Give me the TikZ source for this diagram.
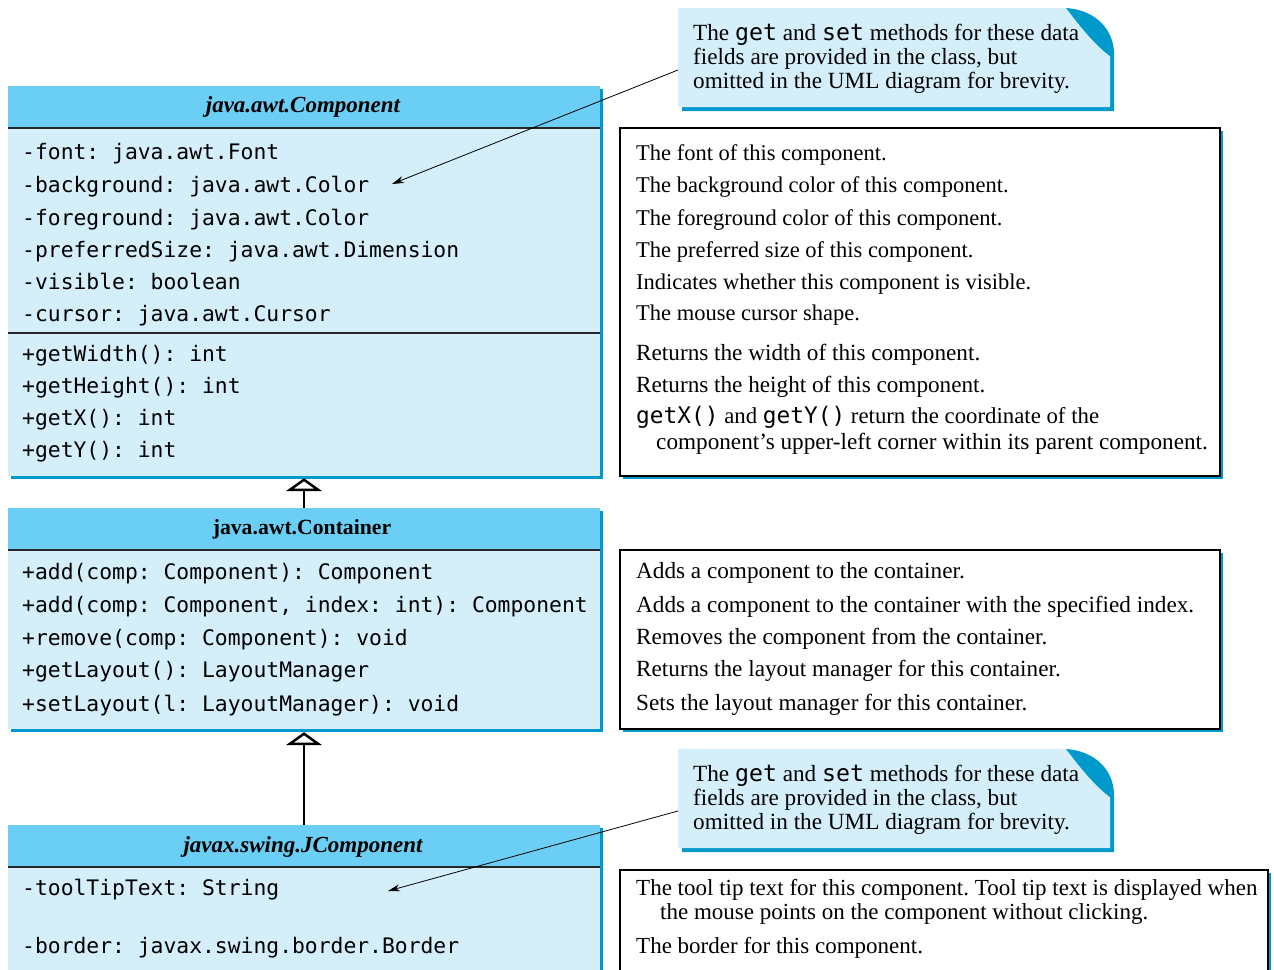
\documentclass[tikz,border=0pt]{standalone}
\usepackage{fontspec}
\setmainfont{Liberation Serif}
\setmonofont{DejaVu Sans Mono}
\usetikzlibrary{arrows.meta,shadows}
\definecolor{headblue}{RGB}{106,206,245}
\definecolor{bodyblue}{RGB}{212,238,250}
\definecolor{shadblue}{RGB}{0,153,204}
\tikzset{
  bluesh/.style={drop shadow={shadow xshift=3pt,shadow yshift=-3pt,fill=shadblue,opacity=1}},
  cbody/.style={rectangle, fill=bodyblue, inner sep=0pt, minimum width=592pt, bluesh},
  chead/.style={rectangle, fill=headblue, inner sep=0pt, minimum width=592pt, minimum height=42pt},
  mono/.style={anchor=base west, inner sep=0pt, font=\fontsize{21.35}{25}\selectfont\ttfamily},
  desc/.style={anchor=base west, inner sep=0pt, font=\fontsize{23.2}{27}\selectfont\frenchspacing},
  descn/.style={desc, font=\fontsize{22.5}{27}\selectfont\frenchspacing},
  notetext/.style={anchor=base west, inner sep=0pt, font=\fontsize{23.2}{27}\selectfont},
  headtext/.style={anchor=base, inner sep=0pt, font=\fontsize{23}{27}\selectfont\bfseries},
  sepline/.style={line width=1.5pt, draw=black!85},
  descbox/.style={rectangle, draw=black, line width=1.2pt, fill=white, inner sep=0pt, bluesh},
  ptr/.style={line width=0.8pt, -{Stealth[length=12pt,width=7pt]}},
  inherit/.style={line width=2.5pt, -{Triangle[open,length=13pt,width=36pt,line width=2.5pt]}}
}
\newcommand{\mt}[1]{{\ttfamily #1}}
\begin{document}
\begin{tikzpicture}[x=1pt,y=-1pt]
\useasboundingbox (0,0) rectangle (1274,969);
\clip (0,0) rectangle (1274,969);

% ---------- java.awt.Component ----------
\node[cbody, minimum height=390pt] (comp) at (304,281) {};
\node[chead] (comphead) at (304,107) {};
\draw[sepline] (comphead.south west) -- (comphead.south east);
\draw[sepline] (8,333) -- (600,333);
\node[headtext] (compname) at (303,112) {\itshape java.awt.Component};
\node[mono] (ca1) at (22,159) {-font: java.awt.Font};
\node[mono] (ca2) at (22,192) {-background: java.awt.Color};
\node[mono] (ca3) at (22,225) {-foreground: java.awt.Color};
\node[mono] (ca4) at (22,257) {-preferredSize: java.awt.Dimension};
\node[mono] (ca5) at (22,289) {-visible: boolean};
\node[mono] (ca6) at (22,321) {-cursor: java.awt.Cursor};
\node[mono] (cm1) at (22,361) {+getWidth(): int};
\node[mono] (cm2) at (22,393) {+getHeight(): int};
\node[mono] (cm3) at (22,425) {+getX(): int};
\node[mono] (cm4) at (22,457) {+getY(): int};

% ---------- java.awt.Container ----------
\node[cbody, minimum height=221pt] (cont) at (304,618.5) {};
\node[chead] (conthead) at (304,529) {};
\draw[sepline] (conthead.south west) -- (conthead.south east);
\node[headtext, font=\fontsize{21.7}{26}\selectfont\bfseries] (contname) at (302,534) {java.awt.Container};
\node[mono] (tm1) at (22,579) {+add(comp: Component): Component};
\node[mono] (tm2) at (22,612) {+add(comp: Component, index: int): Component};
\node[mono] (tm3) at (22,645) {+remove(comp: Component): void};
\node[mono] (tm4) at (22,677) {+getLayout(): LayoutManager};
\node[mono] (tm5) at (22,711) {+setLayout(l: LayoutManager): void};

% ---------- javax.swing.JComponent ----------
\node[cbody, minimum height=190pt] (jcomp) at (304,920) {};
\node[chead] (jcomphead) at (304,846) {};
\draw[sepline] (jcomphead.south west) -- (jcomphead.south east);
\node[headtext] (jcompname) at (303,852) {\itshape javax.swing.JComponent};
\node[mono] (ja1) at (22,895) {-toolTipText: String};
\node[mono] (ja2) at (22,953) {-border: javax.swing.border.Border};

% ---------- inheritance ----------
\draw[inherit] (cont.north) -- ([yshift=-2pt]comp.south);
\draw[inherit] (jcomp.north) -- ([yshift=-3pt]cont.south);

% ---------- description boxes ----------
\node[descbox, minimum width=600pt, minimum height=348pt] (d1) at (920,302) {};
\node[descn] (d1a) at (636,160) {The font of this component.};
\node[descn] (d1b) at (636,192) {The background color of this component.};
\node[descn] (d1c) at (636,225) {The foreground color of this component.};
\node[descn] (d1d) at (636,257) {The preferred size of this component.};
\node[descn] (d1e) at (636,289) {Indicates whether this component is visible.};
\node[descn] (d1f) at (636,320) {The mouse cursor shape.};
\node[desc] (d1g) at (636,360) {Returns the width of this component.};
\node[desc] (d1h) at (636,392) {Returns the height of this component.};
\node[desc, font=\fontsize{22.8}{27}\selectfont] (d1i) at (636,423) {\mt{getX()} and \mt{getY()} return the coordinate of the};
\node[desc] (d1j) at (656,449) {component's upper-left corner within its parent component.};

\node[descbox, minimum width=600pt, minimum height=179pt] (d2) at (920,639.5) {};
\node[desc] (d2a) at (636,578) {Adds a component to the container.};
\node[desc] (d2b) at (636,612) {Adds a component to the container with the specified index.};
\node[desc] (d2c) at (636,644) {Removes the component from the container.};
\node[desc] (d2d) at (636,676) {Returns the layout manager for this container.};
\node[desc] (d2e) at (636,710) {Sets the layout manager for this container.};

\node[descbox, minimum width=648pt, minimum height=140pt] (d3) at (944,940) {};
\node[desc, font=\fontsize{23}{27}\selectfont\frenchspacing] (d3a) at (636,895) {The tool tip text for this component. Tool tip text is displayed when};
\node[desc, font=\fontsize{23}{27}\selectfont\frenchspacing] (d3b) at (660,919) {the mouse points on the component without clicking.};
\node[desc, font=\fontsize{23}{27}\selectfont\frenchspacing] (d3c) at (636,953) {The border for this component.};

% ---------- notes ----------
\foreach \oy/\nm in {0/na,741/nb}{
  \begin{scope}[yshift=-\oy pt]
    \fill[shadblue] (682,11) -- (1066,11) -- (1114,52) -- (1114,111) -- (682,111) -- cycle;
    \fill[bodyblue] (678,8) -- (1066,8) .. controls (1080,26) and (1094,44) .. (1110,56) -- (1110,107) -- (678,107) -- cycle;
    \fill[shadblue] (1066,8) .. controls (1096,10) and (1114,30) .. (1114,54) -- (1110,56) .. controls (1094,44) and (1080,26) .. (1066,8) -- cycle;
    \coordinate (\nm) at (678,70);
  \end{scope}
}
\node[notetext] (na1) at (693,40) {The \mt{get} and \mt{set} methods for these data};
\node[notetext] (na2) at (693,64) {fields are provided in the class, but};
\node[notetext] (na3) at (693,88) {omitted in the UML diagram for brevity.};
\node[notetext] (nb1) at (693,781) {The \mt{get} and \mt{set} methods for these data};
\node[notetext] (nb2) at (693,805) {fields are provided in the class, but};
\node[notetext] (nb3) at (693,829) {omitted in the UML diagram for brevity.};

\coordinate (ta) at (392,184);
\coordinate (tb) at (388,891);
\draw[ptr] (na) -- (ta);
\draw[ptr] (nb) -- (tb);
\end{tikzpicture}
\end{document}
